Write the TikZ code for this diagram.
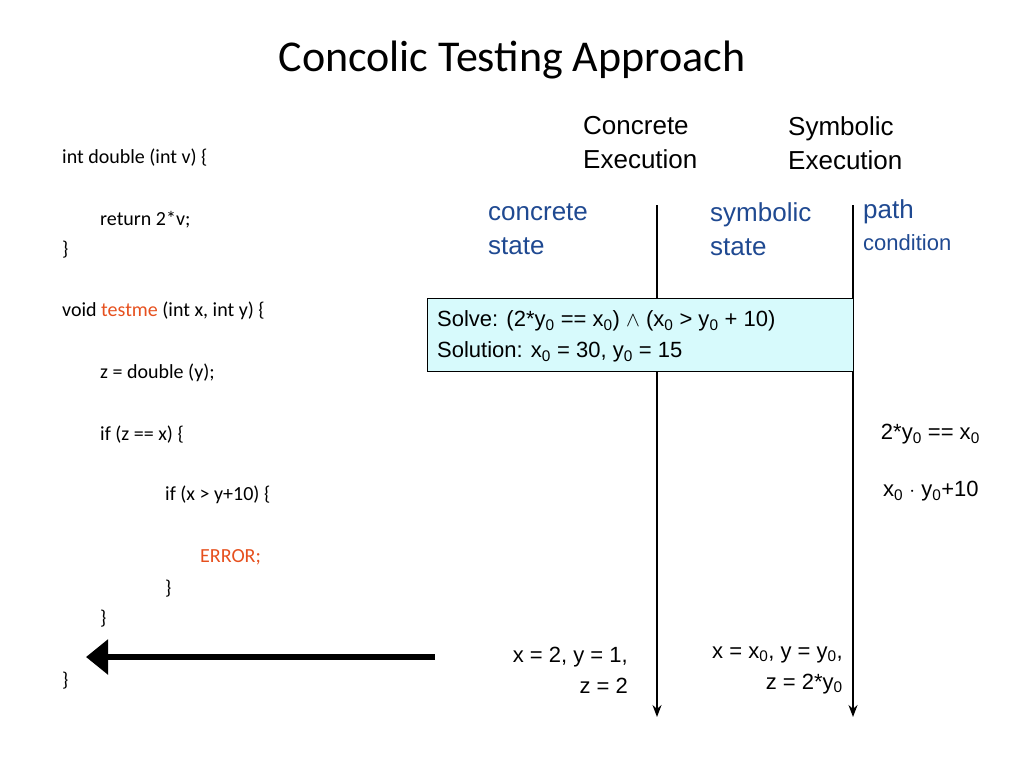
\documentclass[tikz,border=0pt]{standalone}
\usepackage{fontspec}
\setmainfont{Carlito}
\newfontfamily\arial{Liberation Sans}
\usetikzlibrary{arrows.meta}
\definecolor{stateblue}{RGB}{31,73,145}
\definecolor{errorange}{RGB}{230,80,30}
\definecolor{boxcyan}{RGB}{215,250,252}
\newcommand{\sz}{\textsubscript{0}}
\tikzset{
  code/.style={anchor=west, inner sep=0pt, font=\fontsize{20}{22}\selectfont},
  label/.style={anchor=west, inner sep=0pt, align=left, font=\arial\fontsize{26}{34}\selectfont},
  state/.style={label, text=stateblue},
  value/.style={anchor=east, inner sep=0pt, align=right, font=\arial\fontsize{22}{31}\selectfont},
  timeline/.style={-{Stealth[length=12pt,width=9pt]}, line width=1.5pt},
}
\begin{document}
\begin{tikzpicture}[x=1pt, y=-1pt]
\useasboundingbox (0,0) rectangle (1024,768);

% title
\node [font=\fontsize{44}{48}\selectfont] (title) at (512,60) {Concolic Testing Approach};

% column headings
\node [label] (concexec) at (583,143) {Concrete\\Execution};
\node [label] (symexec) at (788,143) {Symbolic\\Execution};
\node [state] (concstate) at (488,229) {concrete\\state};
\node [state] (symstate) at (710,229) {symbolic\\state};
\node [state] (pathhead) at (863,212) {path};
\node [state, font=\arial\fontsize{22}{24}\selectfont] (pathcond) at (863,243) {condition};

% program
\node [code] (c1) at (62,158) {int double (int v) \{};
\node [code] (c2) at (100,220) {return 2*v;};
\node [code] (c3) at (62,250) {\}};
\node [code] (c4) at (62,311) {void \textcolor{errorange}{testme} (int x, int y) \{};
\node [code] (c5) at (100,373) {z = double (y);};
\node [code] (c6) at (100,435) {if (z == x) \{};
\node [code] (c7) at (165,495) {if (x > y+10) \{};
\node [code, text=errorange] (c8) at (200,557) {ERROR;};
\node [code] (c9) at (165,589) {\}};
\node [code] (c10) at (100,619) {\}};
\node [code] (c11) at (62,681) {\}};

% timelines
\coordinate (conctop) at (657,205);
\coordinate (concbot) at (657,717);
\coordinate (symtop) at (853,205);
\coordinate (symbot) at (853,717);
\draw [timeline] (conctop) -- (concbot);
\draw [timeline] (symtop) -- (symbot);

% solver box
\node [draw, fill=boxcyan, anchor=north west, minimum width=426pt, minimum height=73pt,
       inner sep=0pt] (solvebox) at (427,298) {};
\node [value, anchor=west] (solve) at (437,321) {Solve: (2*y\sz{} == x\sz) $\wedge$ (x\sz{} > y\sz{} + 10)};
\node [value, anchor=west] (solution) at (437,352) {Solution: x\sz{} = 30, y\sz{} = 15};

% path conditions
\node [value] (pc1) at (980,434) {2*y\sz{} == x\sz};
\node [value, anchor=west] (pc2) at (883,491) {x\sz{} $\cdot$ y\sz+10};

% states
\node [value] (concval) at (628,670) {x = 2, y = 1,\\z = 2};
\node [value] (symval) at (843,670) {x = x\sz, y = y\sz,\\z = 2*y\sz};

% back arrow
\coordinate (backstart) at (435,657);
\coordinate (backend) at (86,657);
\draw [-{Triangle[length=22pt,width=34pt]}, line width=6pt] (backstart) -- (backend);
\end{tikzpicture}
\end{document}
